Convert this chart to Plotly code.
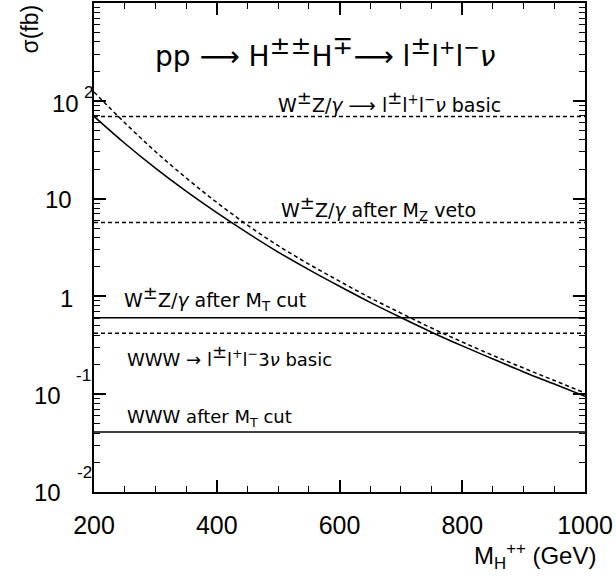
import math
import plotly.graph_objects as go

# ---------------- data ----------------
mass = [200, 250, 300, 350, 400, 450, 500, 550, 600, 650, 700, 750, 800, 850, 900, 950, 1000]
sigma_solid = [69.3, 36.8, 20.5, 11.9, 7.18, 4.46, 2.84, 1.88, 1.27, 0.869, 0.608,
               0.431, 0.312, 0.229, 0.169, 0.127, 0.0953]
sigma_dashed = [123, 59.7, 30.3, 16.3, 9.14, 5.36, 3.30, 2.14, 1.43, 0.968, 0.675,
                0.475, 0.342, 0.249, 0.185, 0.138, 0.103]

bkg_values = [69.0, 5.7, 0.605, 0.42, 0.041]

PM = "<sup><span style='font-size:18px'>±</span></sup>"
bkg_labels = [
    "W" + PM + "Z/<i>γ</i> ⟶ l" + PM + "l<sup>+</sup>l<sup>−</sup><i>ν</i> basic",
    "W" + PM + "Z/<i>γ</i> after M<sub>Z</sub> veto",
    "W" + PM + "Z/<i>γ</i> after M<sub>T</sub> cut",
    "WWW → l" + PM + "l<sup>+</sup>l<sup>−</sup>3<i>ν</i> basic",
    "WWW after M<sub>T</sub> cut",
]
TPM = "<sup><span style='font-size:25px'>{}</span></sup>"
title_text = ("pp ⟶ H" + TPM.format("±±") + "H" + TPM.format("∓") + "⟶ l"
              + TPM.format("±") + "l<sup>+</sup>l<sup>−</sup><i>ν</i>")

x_ticks = [200, 400, 600, 800, 1000]
x_minor = list(range(200, 1001, 50))
y_decades = [0.01, 0.1, 1, 10, 100, 1000]
y_tick_base = ["10", "10", "1", "10", "10"]
y_tick_exp = ["-2", "-1", "", "", "2"]

# ---------------- styles / positions ----------------
bkg_dash = ["4px,3px", "4px,3px", "solid", "4px,3px", "solid"]
bkg_font = [19, 19, 19, 18, 18]
# label anchor (x in GeV, y in log10 units)
bkg_label_pos = [(496, 1.99), (501, 0.905), (246, -0.02), (250, -0.60), (250, -1.245)]

L, R, T, B = 94, 31, 1, 88
W, H = 616, 580
pw = W - L - R

def px2paper(px):
    return (px - L) / pw

FONT_AX = "Liberation Sans, Arial, sans-serif"
FONT_TX = "DejaVu Sans, sans-serif"

fig = go.Figure()

fig.add_trace(go.Scatter(x=mass, y=sigma_dashed, mode="lines",
                         line=dict(color="black", width=1.5, dash="4px,3px", shape="spline"),
                         showlegend=False, hoverinfo="skip"))
fig.add_trace(go.Scatter(x=mass, y=sigma_solid, mode="lines",
                         line=dict(color="black", width=1.6, shape="spline"),
                         showlegend=False, hoverinfo="skip"))

for v, d in zip(bkg_values, bkg_dash):
    fig.add_trace(go.Scatter(x=[mass[0], mass[-1]], y=[v, v], mode="lines",
                             line=dict(color="black", width=1.5, dash=d),
                             showlegend=False, hoverinfo="skip"))

ann = []
for txt, (xp, yp), fs in zip(bkg_labels, bkg_label_pos, bkg_font):
    ann.append(dict(x=xp, y=yp, xref="x", yref="y", text=txt, showarrow=False,
                    xanchor="left", yanchor="middle",
                    font=dict(family=FONT_TX, size=fs, color="black")))

ann.append(dict(x=296, y=2.5, xref="x", yref="y", text=title_text, showarrow=False,
                xanchor="left", yanchor="middle",
                font=dict(family=FONT_TX, size=28, color="black")))

# y tick labels (ROOT style exponent placement)
base_right = [63, 63, 75, 74, 81]
base_shift = [0, -1, -2, -1, -3]
exp_left = [75, 74, 0, 0, 82]
exp_shift = [20, 19, 0, 0, 8]
for i, (val, b, e) in enumerate(zip(y_decades[:-1], y_tick_base, y_tick_exp)):
    ann.append(dict(x=px2paper(base_right[i]), y=math.log10(val), xref="paper", yref="y",
                    text=b, showarrow=False, xanchor="right", yanchor="middle",
                    yshift=base_shift[i],
                    font=dict(family=FONT_AX, size=24, color="black")))
    if e:
        ann.append(dict(x=px2paper(exp_left[i]), y=math.log10(val), xref="paper", yref="y",
                        text=e, showarrow=False, xanchor="left", yanchor="middle",
                        yshift=exp_shift[i],
                        font=dict(family=FONT_AX, size=17, color="black")))

# axis titles
ann.append(dict(x=px2paper(29), y=1.0, xref="paper", yref="paper", text="σ(fb)",
                textangle=-90, showarrow=False, xanchor="center", yanchor="top",
                font=dict(family=FONT_AX, size=23, color="black")))
ann.append(dict(x=px2paper(598), y=-(575 - (H - B)) / (H - B - T), xref="paper", yref="paper",
                text="M<sub>H</sub><sup>++</sup> (GeV)", showarrow=False,
                xanchor="right", yanchor="bottom",
                font=dict(family=FONT_AX, size=24, color="black")))

y_minor = [m * d for d in y_decades[:-1] for m in range(2, 10)]

fig.update_layout(
    width=W, height=H,
    margin=dict(l=L, r=R, t=T, b=B),
    paper_bgcolor="white", plot_bgcolor="white",
    showlegend=False,
    annotations=ann,
    xaxis=dict(range=[mass[0], mass[-1]], tickmode="array", tickvals=x_ticks,
               ticks="inside", ticklen=12, tickwidth=1.5, tickcolor="black",
               showline=True, linewidth=2, linecolor="black", mirror="allticks",
               showgrid=False, zeroline=False,
               tickfont=dict(family=FONT_AX, size=25, color="black"),
               ticklabelstandoff=10,
               minor=dict(tickmode="array", tickvals=x_minor, ticks="inside", ticklen=6,
                          tickwidth=1.2, tickcolor="black", showgrid=False)),
    yaxis=dict(type="log", range=[-2, 3], tickmode="array", tickvals=y_decades,
               ticks="inside", ticklen=12, tickwidth=1.5, tickcolor="black",
               showline=True, linewidth=2, linecolor="black", mirror="allticks",
               showgrid=False, zeroline=False, showticklabels=False,
               minor=dict(tickmode="array", tickvals=y_minor, ticks="inside", ticklen=6,
                          tickwidth=1.2, tickcolor="black", showgrid=False)),
)

fig.write_html("out.html")
